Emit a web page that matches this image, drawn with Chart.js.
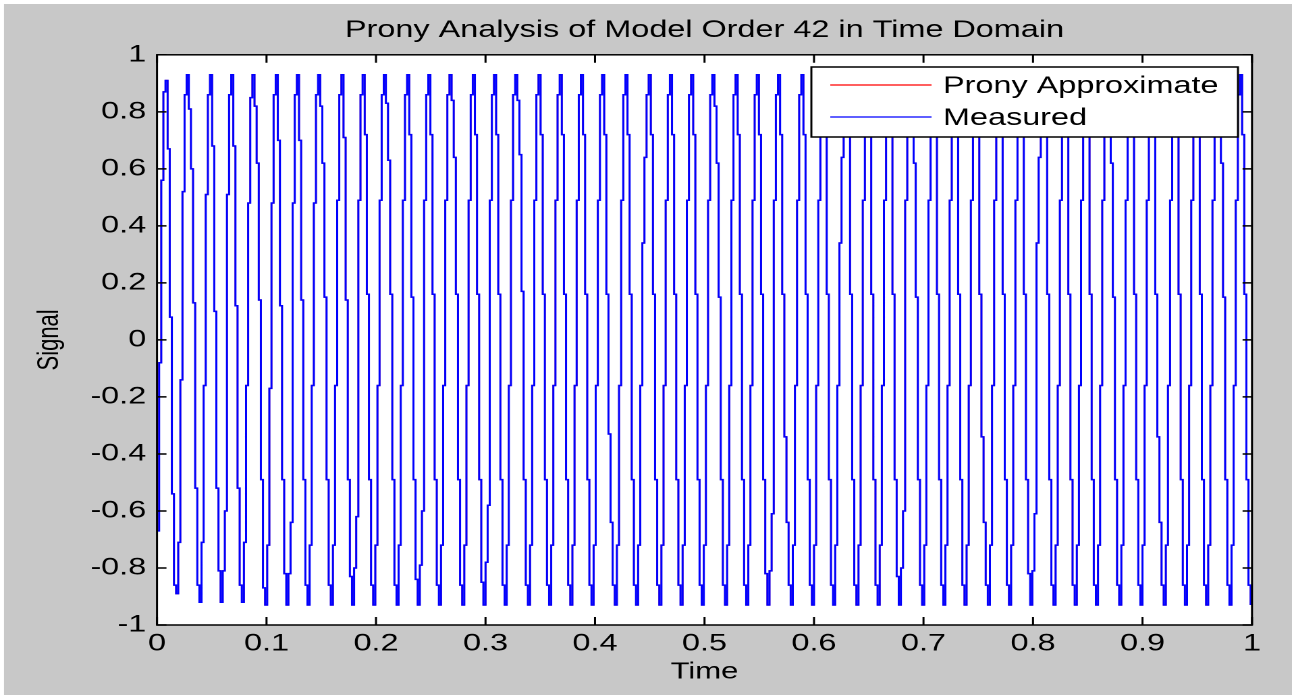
<!DOCTYPE html>
<html>
<head>
<meta charset="utf-8">
<title>Prony Analysis of Model Order 42 in Time Domain</title>
<script src="https://cdn.jsdelivr.net/npm/chart.js@4.4.1/dist/chart.umd.min.js"></script>
<style>
    html, body { margin: 0; padding: 0; background: #ffffff; }
    #chart {
        position: absolute; left: 0; top: 0;
        transform: scaleX(1.35); transform-origin: 0 0;
    }
</style>
</head>
<body>
<canvas id="chart" width="957" height="695"></canvas>
<script>
    // ---------------- Data ----------------
    const sampleStep = 3 / 1550;   // seconds between samples
    const xTicks = [0, 0.1, 0.2, 0.3, 0.4, 0.5, 0.6, 0.7, 0.8, 0.9, 1];
    const yTicks = [-1, -0.8, -0.6, -0.4, -0.2, 0, 0.2, 0.4, 0.6, 0.8, 1];
    const seriesLabels = ['Prony Approximate', 'Measured'];

    // measured signal, one line per cycle
    const measured = [
        -0.67, -0.08,
        0.56, 0.87, 0.91, 0.67, 0.08, -0.54, -0.86, -0.89, -0.71, -0.14,
        0.52, 0.86, 0.93, 0.81, 0.60, 0.13, -0.52, -0.86, -0.92, -0.71, -0.16,
        0.51, 0.86, 0.93, 0.68, 0.10, -0.52, -0.81, -0.92, -0.81, -0.60,
        0.51, 0.86, 0.93, 0.68, 0.12, -0.52, -0.86, -0.92, -0.71, -0.16,
        0.48, 0.85, 0.93, 0.82, 0.62, 0.14, -0.49, -0.87, -0.93, -0.72, -0.17,
        0.48, 0.86, 0.93, 0.70, 0.12, -0.49, -0.82, -0.93, -0.82, -0.64,
        0.48, 0.86, 0.93, 0.70, 0.14, -0.49, -0.86, -0.93, -0.72, -0.16,
        0.48, 0.86, 0.93, 0.82, 0.62, 0.15, -0.49, -0.86, -0.93, -0.72, -0.16,
        0.49, 0.86, 0.93, 0.71, 0.14, -0.49, -0.83, -0.93, -0.80, -0.62,
        0.49, 0.86, 0.93, 0.72, 0.16, -0.49, -0.86, -0.93, -0.72, -0.16,
        0.49, 0.86, 0.93, 0.83, 0.63, 0.16, -0.49, -0.86, -0.93, -0.72, -0.16,
        0.49, 0.86, 0.93, 0.72, 0.15, -0.49, -0.84, -0.93, -0.79, -0.60,
        0.49, 0.86, 0.93, 0.72, 0.16, -0.49, -0.86, -0.93, -0.72, -0.16,
        0.49, 0.86, 0.93, 0.84, 0.64, 0.16, -0.49, -0.86, -0.93, -0.72, -0.16,
        0.49, 0.86, 0.93, 0.72, 0.16, -0.49, -0.85, -0.93, -0.78, -0.58,
        0.49, 0.86, 0.93, 0.72, 0.16, -0.49, -0.86, -0.93, -0.72, -0.16,
        0.49, 0.86, 0.93, 0.84, 0.65, 0.17, -0.49, -0.86, -0.93, -0.72, -0.16,
        0.49, 0.86, 0.93, 0.72, 0.16, -0.49, -0.86, -0.93, -0.72, -0.16,
        0.49, 0.86, 0.93, 0.72, 0.16, -0.49, -0.86, -0.93, -0.72, -0.16,
        0.49, 0.86, 0.93, 0.72, 0.16, -0.49, -0.86, -0.93, -0.72, -0.16,
        0.49, 0.86, 0.93, 0.72, 0.16, -0.33, -0.64, -0.86, -0.93, -0.72, -0.16,
        0.49, 0.86, 0.93, 0.72, 0.16, -0.49, -0.86, -0.93, -0.72, -0.16,
        0.34, 0.64, 0.86, 0.93, 0.72, 0.16, -0.49, -0.86, -0.93, -0.72, -0.16,
        0.49, 0.86, 0.93, 0.72, 0.16, -0.49, -0.86, -0.93, -0.72, -0.16,
        0.49, 0.86, 0.93, 0.72, 0.16, -0.49, -0.86, -0.93, -0.72, -0.16,
        0.49, 0.86, 0.93, 0.82, 0.62, 0.15, -0.49, -0.86, -0.93, -0.72, -0.16,
        0.49, 0.86, 0.93, 0.72, 0.16, -0.49, -0.86, -0.93, -0.72, -0.16,
        0.49, 0.86, 0.93, 0.72, 0.16, -0.49, -0.82, -0.93, -0.81, -0.61,
        0.49, 0.86, 0.93, 0.72, 0.16, -0.34, -0.64, -0.86, -0.93, -0.72, -0.16,
        0.49, 0.86, 0.93, 0.72, 0.16, -0.49, -0.86, -0.93, -0.72, -0.16,
        0.49, 0.86, 0.93, 0.72, 0.16, -0.49, -0.86, -0.93, -0.72, -0.16,
        0.34, 0.64, 0.86, 0.93, 0.72, 0.16, -0.49, -0.86, -0.93, -0.72, -0.16,
        0.49, 0.86, 0.93, 0.72, 0.16, -0.49, -0.86, -0.93, -0.72, -0.16,
        0.49, 0.86, 0.93, 0.72, 0.16, -0.49, -0.83, -0.93, -0.80, -0.60,
        0.49, 0.86, 0.93, 0.82, 0.62, 0.15, -0.49, -0.86, -0.93, -0.72, -0.16,
        0.49, 0.86, 0.93, 0.72, 0.16, -0.49, -0.86, -0.93, -0.72, -0.16,
        0.49, 0.86, 0.93, 0.72, 0.16, -0.49, -0.86, -0.93, -0.72, -0.16,
        0.49, 0.86, 0.93, 0.72, 0.16, -0.34, -0.64, -0.86, -0.93, -0.72, -0.16,
        0.49, 0.86, 0.93, 0.72, 0.16, -0.49, -0.86, -0.93, -0.72, -0.16,
        0.49, 0.86, 0.93, 0.72, 0.16, -0.49, -0.82, -0.93, -0.81, -0.61,
        0.34, 0.64, 0.86, 0.93, 0.72, 0.16, -0.49, -0.86, -0.93, -0.72, -0.16,
        0.49, 0.86, 0.93, 0.72, 0.16, -0.49, -0.86, -0.93, -0.72, -0.16,
        0.49, 0.86, 0.93, 0.72, 0.16, -0.49, -0.86, -0.93, -0.72, -0.16,
        0.49, 0.86, 0.93, 0.82, 0.62, 0.15, -0.49, -0.86, -0.93, -0.72, -0.16,
        0.49, 0.86, 0.93, 0.72, 0.16, -0.49, -0.86, -0.93, -0.72, -0.16,
        0.49, 0.86, 0.93, 0.72, 0.16, -0.34, -0.64, -0.86, -0.93, -0.72, -0.16,
        0.49, 0.86, 0.93, 0.72, 0.16, -0.49, -0.86, -0.93, -0.72, -0.16,
        0.49, 0.86, 0.93, 0.72, 0.16, -0.49, -0.86, -0.93, -0.72, -0.16,
        0.49, 0.86, 0.93, 0.82, 0.62, 0.15, -0.49, -0.86, -0.93, -0.72, -0.16,
        0.49, 0.86, 0.93, 0.72, 0.16, -0.49, -0.86, -0.93
    ];
    // the Prony fit sits exactly under the measured trace
    const pronyApprox = measured.slice();

    // ---------------- Layout ----------------
    const S = 1.35;          // horizontal stretch of the figure
    const W = 957, H = 695;
    const FONT = 'Liberation Sans, Arial, sans-serif';
    const gray = '#c8c8c8';

    Chart.defaults.font.family = FONT;
    Chart.defaults.color = '#000000';

    const toPoints = arr => arr.map((v, i) => ({ x: i * sampleStep, y: v }));

    // ---------------- Helper: figure + axes box ----------------
    const figureFrame = {
        id: 'figureFrame',
        beforeDraw(chart) {
            const { ctx, chartArea: a } = chart;
            ctx.save();
            ctx.fillStyle = '#ffffff';
            ctx.fillRect(0, 0, W, H);
            ctx.fillStyle = gray;
            ctx.fillRect(4 / S, 4, W, H);
            ctx.fillStyle = '#ffffff';
            ctx.fillRect(a.left, a.top, a.right - a.left, a.bottom - a.top);
            ctx.restore();
        },
        afterDatasetsDraw(chart) {
            const { ctx, chartArea: a, scales: { x, y } } = chart;
            ctx.save();
            ctx.strokeStyle = '#000000';
            ctx.lineWidth = 1.5;
            ctx.beginPath();
            xTicks.forEach(v => {
                const px = x.getPixelForValue(v);
                ctx.moveTo(px, a.bottom); ctx.lineTo(px, a.bottom - 8);
                ctx.moveTo(px, a.top); ctx.lineTo(px, a.top + 8);
            });
            yTicks.forEach(v => {
                const py = y.getPixelForValue(v);
                ctx.moveTo(a.left, py); ctx.lineTo(a.left + 7, py);
                ctx.moveTo(a.right, py); ctx.lineTo(a.right - 7, py);
            });
            ctx.stroke();
            ctx.strokeRect(a.left, a.top, a.right - a.left, a.bottom - a.top);
            ctx.restore();
        }
    };

    // ---------------- Helper: boxed legend ----------------
    const boxLegend = {
        id: 'boxLegend',
        afterDraw(chart) {
            const ctx = chart.ctx;
            const box = { left: 601, top: 67, right: 917, bottom: 137 };
            ctx.save();
            ctx.fillStyle = '#ffffff';
            ctx.fillRect(box.left, box.top, box.right - box.left, box.bottom - box.top);
            ctx.strokeStyle = '#000000';
            ctx.lineWidth = 1.5;
            ctx.strokeRect(box.left, box.top, box.right - box.left, box.bottom - box.top);
            const rowsY = [85, 117];
            chart.data.datasets.forEach((ds, i) => {
                ctx.strokeStyle = ds.borderColor;
                ctx.lineWidth = 1.2;
                ctx.beginPath();
                ctx.moveTo(615, rowsY[i]);
                ctx.lineTo(690, rowsY[i]);
                ctx.stroke();
                ctx.fillStyle = '#000000';
                ctx.font = '24px ' + FONT;
                ctx.textBaseline = 'middle';
                ctx.textAlign = 'left';
                ctx.fillText(ds.label, 698.5, rowsY[i] + 1.5);
            });
            ctx.restore();
        }
    };

    new Chart(document.getElementById('chart').getContext('2d'), {
        type: 'line',
        data: {
            datasets: [
                {
                    label: seriesLabels[0],
                    data: toPoints(pronyApprox),
                    borderColor: '#ff0000',
                    borderWidth: 1.2,
                    stepped: true,
                    pointRadius: 0,
                    order: 1
                },
                {
                    label: seriesLabels[1],
                    data: toPoints(measured),
                    borderColor: '#0000ff',
                    borderWidth: 1.5,
                    stepped: true,
                    pointRadius: 0,
                    order: 0
                }
            ]
        },
        options: {
            responsive: false,
            devicePixelRatio: 2,
            animation: false,
            layout: { padding: { left: 0, right: 29.6, top: 0, bottom: 0 } },
            plugins: {
                legend: { display: false },
                tooltip: { enabled: false },
                title: {
                    display: true,
                    fullSize: false,
                    text: 'Prony Analysis of Model Order 42 in Time Domain',
                    color: '#000000',
                    font: { size: 24, weight: 'normal' },
                    padding: { top: 16, bottom: 10 }
                }
            },
            scales: {
                x: {
                    type: 'linear',
                    min: 0, max: 1,
                    grid: { display: false, drawTicks: false },
                    border: { display: false },
                    afterBuildTicks: scale => { scale.ticks = xTicks.map(v => ({ value: v })); },
                    afterFit: scale => { scale.height = 70; },
                    ticks: {
                        autoSkip: false, maxRotation: 0, padding: 4.7,
                        font: { size: 24 },
                        callback: v => String(Math.round(v * 10) / 10)
                    },
                    title: {
                        display: true, text: 'Time',
                        font: { size: 23 },
                        padding: { top: 0, bottom: 9.2 }
                    }
                },
                y: {
                    type: 'linear',
                    min: -1, max: 1,
                    grid: { display: false, drawTicks: false },
                    border: { display: false },
                    afterBuildTicks: scale => { scale.ticks = yTicks.map(v => ({ value: v })); },
                    afterFit: scale => { scale.width = 116.3; },
                    ticks: {
                        autoSkip: false, padding: 8,
                        font: { size: 24 },
                        callback: v => String(Math.round(v * 10) / 10)
                    },
                    title: {
                        display: true, text: 'Signal',
                        font: { size: 22 },
                        padding: { top: 23.5, bottom: 0 }
                    }
                }
            }
        },
        plugins: [figureFrame, boxLegend]
    });
</script>
</body>
</html>
